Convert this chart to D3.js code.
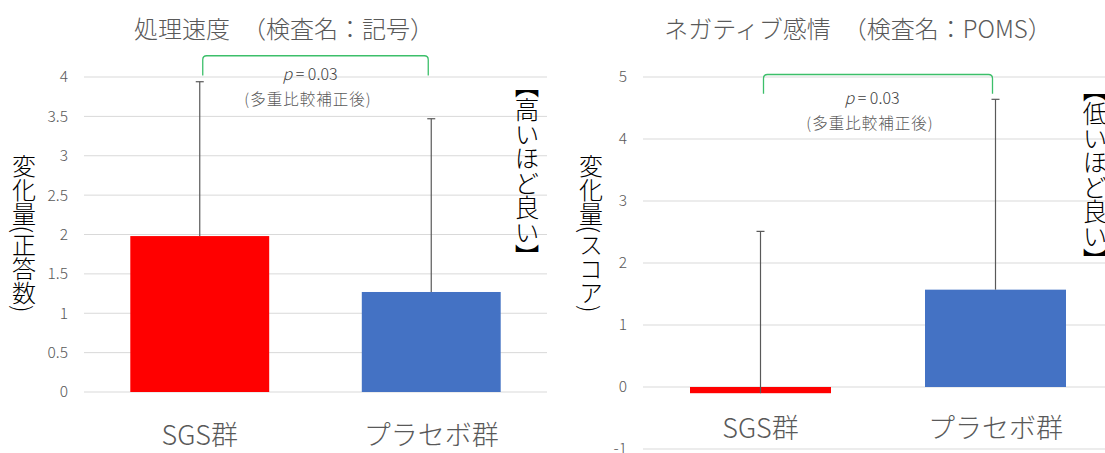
<!DOCTYPE html>
<html>
<head>
<meta charset="utf-8">
<script src="https://cdn.jsdelivr.net/npm/d3@7/dist/d3.min.js"></script>
<style>
  body { margin: 0; background: #fff; }
  svg text { font-family: "Noto Sans CJK JP", "Noto Sans", sans-serif; font-weight: 300; }
</style>
</head>
<body>
<div id="chart"></div>
<script>
// data
var categories = ["SGS群", "プラセボ群"];

var speedMeans = [1.98, 1.27];
var speedErrors = [1.96, 2.20];
var speedTicks = [0, 0.5, 1, 1.5, 2, 2.5, 3, 3.5, 4];

var moodMeans = [-0.1, 1.57];
var moodErrors = [2.61, 3.07];
var moodTicks = [-1, 0, 1, 2, 3, 4, 5];

var barColors = ["#ff0000", "#4472c4"];

var svg = d3.select("#chart").append("svg")
    .attr("width", 1105)
    .attr("height", 453);

function drawPanel(opt) {
    var x = d3.scaleBand()
        .domain(categories)
        .range([opt.left, opt.right])
        .paddingInner(0.4)
        .paddingOuter(0.2);

    var y = d3.scaleLinear()
        .domain(opt.domain)
        .range([opt.bottom, opt.top]);

    var g = svg.append("g");

    // gridlines
    g.selectAll(".grid")
        .data(opt.ticks)
        .enter().append("line")
        .attr("x1", opt.left)
        .attr("x2", opt.gridEnd)
        .attr("y1", function (d) { return y(d); })
        .attr("y2", function (d) { return y(d); })
        .style("stroke", "#d9d9d9")
        .style("stroke-width", 1);

    // tick labels
    g.selectAll(".tick")
        .data(opt.ticks)
        .enter().append("text")
        .attr("x", opt.left - 16)
        .attr("y", function (d) { return y(d); })
        .attr("dy", "0.35em")
        .attr("text-anchor", "end")
        .style("font-size", "15.5px")
        .style("fill", "#595959")
        .text(function (d) { return d; });

    // bars
    g.selectAll(".bar")
        .data(opt.means)
        .enter().append("rect")
        .attr("x", function (d, i) { return x(categories[i]); })
        .attr("width", x.bandwidth())
        .attr("y", function (d) { return y(Math.max(0, d)); })
        .attr("height", function (d) { return Math.abs(y(d) - y(0)); })
        .style("fill", function (d, i) { return barColors[i]; });

    // error bars (plus only)
    var err = g.selectAll(".err")
        .data(opt.means)
        .enter().append("g");
    err.append("line")
        .attr("x1", function (d, i) { return x(categories[i]) + x.bandwidth() / 2; })
        .attr("x2", function (d, i) { return x(categories[i]) + x.bandwidth() / 2; })
        .attr("y1", function (d) { return y(d); })
        .attr("y2", function (d, i) { return y(d + opt.errors[i]); })
        .style("stroke", "#595959")
        .style("stroke-width", 1.2);
    err.append("line")
        .attr("x1", function (d, i) { return x(categories[i]) + x.bandwidth() / 2 - 4; })
        .attr("x2", function (d, i) { return x(categories[i]) + x.bandwidth() / 2 + 4; })
        .attr("y1", function (d, i) { return y(d + opt.errors[i]); })
        .attr("y2", function (d, i) { return y(d + opt.errors[i]); })
        .style("stroke", "#595959")
        .style("stroke-width", 1.2);

    // category labels
    g.selectAll(".cat")
        .data(categories)
        .enter().append("text")
        .attr("x", function (d) { return x(d) + x.bandwidth() / 2; })
        .attr("y", opt.catY)
        .attr("text-anchor", "middle")
        .style("font-size", "27px")
        .style("fill", "#595959")
        .text(function (d) { return d; });

    // title
    g.append("text")
        .attr("x", opt.titleX)
        .attr("y", 38)
        .attr("text-anchor", "middle")
        .style("font-size", "24px")
        .style("fill", "#595959")
        .text(opt.title);

    // y axis title (vertical)
    g.append("text")
        .attr("x", opt.yTitleX)
        .attr("y", 233)
        .attr("text-anchor", "middle")
        .style("writing-mode", "vertical-rl")
        .style("font-size", "24px")
        .style("fill", "#000")
        .text(opt.yTitle);

    // note on the right
    g.append("text")
        .attr("x", opt.noteX)
        .attr("y", opt.noteY)
        .attr("text-anchor", "middle")
        .style("writing-mode", "vertical-rl")
        .style("font-size", "24.5px")
        .style("fill", "#000")
        .text(opt.note);

    // significance bracket
    var x0 = x(categories[0]) + x.bandwidth() / 2 + 3,
        x1 = x(categories[1]) + x.bandwidth() / 2 - 3,
        yt = y(opt.bracket[0]),
        yb = y(opt.bracket[1]),
        r = 4;
    g.append("path")
        .attr("d", "M" + x0 + "," + yb + "L" + x0 + "," + (yt + r) +
            "Q" + x0 + "," + yt + " " + (x0 + r) + "," + yt +
            "L" + (x1 - r) + "," + yt +
            "Q" + x1 + "," + yt + " " + x1 + "," + (yt + r) +
            "L" + x1 + "," + yb)
        .style("fill", "none")
        .style("stroke", "#3cbf6a")
        .style("stroke-width", 1.3);

    var pt = g.append("text")
        .attr("x", opt.pX)
        .attr("y", opt.pY)
        .attr("text-anchor", "middle")
        .style("font-size", "16px")
        .style("fill", "#404040");
    pt.append("tspan").style("font-style", "italic").text("p");
    pt.append("tspan").text(" = 0.03");

    g.append("text")
        .attr("x", opt.pX - 2)
        .attr("y", opt.pY + 25)
        .attr("text-anchor", "middle")
        .style("font-size", "15.5px")
        .style("letter-spacing", "1px")
        .style("fill", "#595959")
        .text("(多重比較補正後)");
}

drawPanel({
    left: 84, right: 547, gridEnd: 547,
    top: 77, bottom: 392,
    domain: [0, 4], ticks: speedTicks,
    means: speedMeans, errors: speedErrors,
    catY: 445,
    title: "処理速度　（検査名：記号）", titleX: 284,
    yTitle: "変化量(正答数)", yTitleX: 24,
    note: "【高いほど良い】", noteX: 527, noteY: 171,
    bracket: [4.27, 4.02],
    pX: 310, pY: 80
});

drawPanel({
    left: 643, right: 1113, gridEnd: 1105,
    top: 77, bottom: 449,
    domain: [-1, 5], ticks: moodTicks,
    means: moodMeans, errors: moodErrors,
    catY: 438,
    title: "ネガティブ感情　（検査名：POMS）", titleX: 858,
    yTitle: "変化量(スコア)", yTitleX: 591,
    note: "【低いほど良い】", noteX: 1095, noteY: 175,
    bracket: [5.04, 4.73],
    pX: 872, pY: 104
});
</script>
</body>
</html>
